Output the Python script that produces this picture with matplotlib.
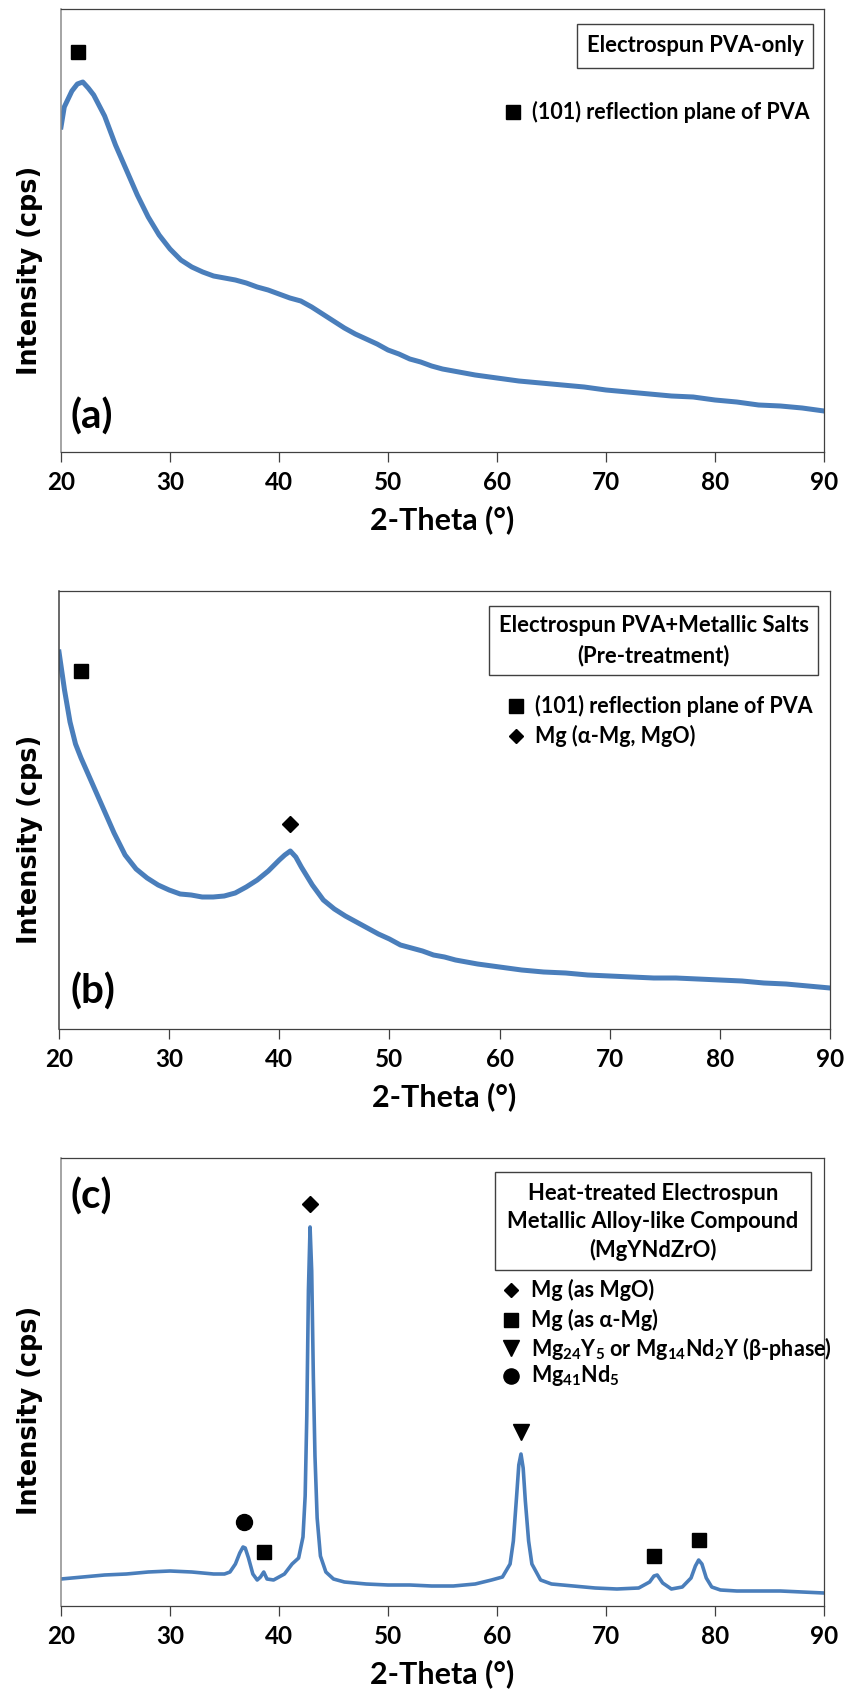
import matplotlib
matplotlib.use("Agg")
import matplotlib.pyplot as plt
from matplotlib.patches import Rectangle
from matplotlib.lines import Line2D

plt.rcParams["font.family"] = ["Lato", "DejaVu Sans"]
plt.rcParams["font.weight"] = "bold"
plt.rcParams["mathtext.fontset"] = "custom"
plt.rcParams["mathtext.rm"] = "Lato:bold"
plt.rcParams["mathtext.it"] = "Lato:bold"
plt.rcParams["mathtext.bf"] = "Lato:bold"

W, H = 847, 1697
LINE_BLUE = "#4a7ebb"

# (a) electrospun PVA only -- intensity (arb. units)
two_theta_a = [20.0, 20.3, 21.0, 21.5, 22.0, 22.5, 23.0, 24.0, 25.0, 26.0, 27.0, 28.0,
               29.0, 30.0, 31.0, 32.0, 33.0, 34.0, 35.0, 36.0, 37.0, 38.0, 39.0, 40.0,
               41.0, 42.0, 43.0, 44.0, 45.0, 46.0, 47.0, 48.0, 49.0, 50.0, 51.0, 52.0,
               53.0, 54.0, 55.0, 56.0, 57.0, 58.0, 60.0, 62.0, 64.0, 66.0, 68.0, 70.0,
               72.0, 74.0, 76.0, 78.0, 80.0, 82.0, 84.0, 86.0, 88.0, 90.0]
intensity_a = [325, 345, 361, 368, 370, 364, 357, 336, 307, 282, 257, 235,
               217, 203, 192, 185, 180, 176, 174, 172, 169, 165, 162, 158,
               154, 151, 145, 138, 131, 124, 118, 113, 108, 102, 98, 93,
               90, 86, 83, 81, 79, 77, 74, 71, 69, 67, 65, 62,
               60, 58, 56, 55, 52, 50, 47, 46, 44, 41]

# (b) PVA + metallic salts, pre-treatment
two_theta_b = [20.0, 20.5, 21.0, 21.5, 22.0, 23.0, 24.0, 25.0, 26.0, 27.0, 28.0, 29.0,
               30.0, 31.0, 32.0, 33.0, 34.0, 35.0, 36.0, 37.0, 38.0, 39.0, 40.0, 40.5,
               41.0, 41.5, 42.0, 43.0, 44.0, 45.0, 46.0, 47.0, 48.0, 49.0, 50.0, 51.0,
               52.0, 53.0, 54.0, 55.0, 56.0, 57.0, 58.0, 60.0, 62.0, 64.0, 66.0, 68.0,
               70.0, 72.0, 74.0, 76.0, 78.0, 80.0, 82.0, 84.0, 86.0, 88.0, 90.0]
intensity_b = [377, 339, 307, 285, 271, 246, 221, 196, 174, 160, 151, 144,
               139, 135, 134, 132, 132, 133, 136, 142, 149, 158, 169, 174,
               178, 172, 162, 144, 129, 120, 113, 107, 101, 95, 90, 84,
               81, 78, 74, 72, 69, 67, 65, 62, 59, 57, 56, 54,
               53, 52, 51, 51, 50, 49, 48, 46, 45, 43, 41]

# (c) heat-treated electrospun alloy-like compound
two_theta_c = [20.0, 22.0, 24.0, 26.0, 28.0, 30.0, 32.0, 34.0, 35.0, 35.5, 36.0, 36.4,
               36.7, 36.9, 37.2, 37.6, 38.0, 38.3, 38.6, 38.9, 39.5, 40.5, 41.2, 41.8,
               42.2, 42.4, 42.55, 42.7, 42.85, 43.0, 43.15, 43.3, 43.5, 43.8, 44.3, 45.0,
               46.0, 48.0, 50.0, 52.0, 54.0, 56.0, 58.0, 59.5, 60.5, 61.2, 61.5, 61.8,
               62.0, 62.2, 62.4, 62.6, 62.9, 63.2, 64.0, 65.0, 67.0, 69.0, 71.0, 73.0,
               74.0, 74.4, 74.7, 75.2, 76.0, 77.0, 77.8, 78.2, 78.5, 78.8, 79.2, 79.7,
               80.5, 82.0, 84.0, 86.0, 88.0, 90.0]
intensity_c = [27, 29, 31, 32, 34, 35, 34, 32, 32, 34, 42, 53,
               59, 58, 48, 32, 26, 29, 34, 27, 26, 32, 42, 48,
               69, 110, 190, 316, 379, 335, 230, 150, 88, 50, 34, 27,
               24, 22, 21, 21, 20, 20, 22, 26, 29, 42, 65, 110,
               141, 152, 138, 105, 65, 42, 26, 22, 20, 18, 17, 18,
               24, 30, 31, 23, 17, 19, 28, 40, 46, 42, 28, 19,
               16, 15, 15, 15, 14, 13]

# peak markers: (2-theta, height)
marks_a = {"s": [(21.6, 400)]}
marks_b = {"s": [(22.0, 358)], "D": [(41.0, 205)]}
marks_c = {"o": [(36.8, 84)], "s": [(38.6, 54), (74.4, 50), (78.5, 66)],
           "D": [(42.8, 402)], "v": [(62.2, 174)]}

MARKER_SIZE = {"s": 10.5, "D": 7.8, "o": 11.5, "v": 11.5}


def fx(x):
    return x / W


def fy(y):
    return 1 - y / H


def make_axes(fig, left, top, right, bottom):
    return fig.add_axes([fx(left), fy(bottom), (right - left) / W, (bottom - top) / H])


def style_axes(ax, height, left_grey=True):
    ax.set_xlim(20, 90)
    ax.set_ylim(0, height)
    ax.set_xticks(range(20, 91, 10))
    ax.set_yticks([])
    for side in ["top", "right", "bottom"]:
        ax.spines[side].set_color("#404040")
        ax.spines[side].set_linewidth(0.9)
    ax.spines["left"].set_color("#8c8c8c" if left_grey else "#404040")
    ax.spines["left"].set_linewidth(1.1)
    ax.tick_params(axis="x", direction="out", length=7, width=0.9, color="#404040",
                   labelsize=17.5, pad=7)
    for lab in ax.get_xticklabels():
        lab.set_fontweight("bold")
    ax.set_xlabel("2-Theta (°)", fontsize=22, fontweight="bold", labelpad=8)


def put_marks(ax, marks):
    for m, pts in marks.items():
        xs = [p[0] for p in pts]
        ys = [p[1] for p in pts]
        ax.plot(xs, ys, linestyle="none", marker=m, color="black",
                markersize=MARKER_SIZE[m], clip_on=False)


def fig_box(fig, left, top, right, bottom, lines, centers_y):
    fig.add_artist(Rectangle((fx(left), fy(bottom)), (right - left) / W, (bottom - top) / H,
                             transform=fig.transFigure, fill=False,
                             edgecolor="#404040", linewidth=1.0))
    cx = (left + right) / 2
    for txt, yy in zip(lines, centers_y):
        fig.text(fx(cx), fy(yy), txt, ha="center", va="center", fontsize=15.8,
                 fontweight="bold")


def fig_key(fig, x_mark, x_text, items):
    for m, yy, txt in items:
        fig.add_artist(Line2D([fx(x_mark)], [fy(yy)], transform=fig.transFigure,
                              marker=m, color="black", linestyle="none",
                              markersize=MARKER_SIZE[m] * 0.95))
        fig.text(fx(x_text), fy(yy), txt, ha="left", va="center", fontsize=15.5,
                 fontweight="bold")


fig = plt.figure(figsize=(W / 100, H / 100), dpi=100)

# panel (a)
ax_a = make_axes(fig, 61, 9, 824, 452)
ax_a.plot(two_theta_a, intensity_a, color=LINE_BLUE, linewidth=3.6)
style_axes(ax_a, 443)
put_marks(ax_a, marks_a)
fig_box(fig, 577, 24, 813, 68, ["Electrospun PVA-only"], [46])
fig_key(fig, 513, 532, [("s", 112, "(101) reflection plane of PVA")])
fig.text(fx(70), fy(417), "(a)", fontsize=29, fontweight="bold", ha="left", va="center")
fig.text(fx(30), fy(270), "Intensity (cps)", rotation=90, fontsize=18.4,
         fontweight="bold", family="DejaVu Sans", ha="center", va="center")

# panel (b)
ax_b = make_axes(fig, 59, 591, 830, 1029)
ax_b.plot(two_theta_b, intensity_b, color=LINE_BLUE, linewidth=3.6)
style_axes(ax_b, 438, left_grey=False)
put_marks(ax_b, marks_b)
fig_box(fig, 489, 606, 818, 675, ["Electrospun PVA+Metallic Salts", "(Pre-treatment)"],
        [626, 656])
fig_key(fig, 516, 535, [("s", 706, "(101) reflection plane of PVA"),
                        ("D", 736, "Mg (α-Mg, MgO)")])
fig.text(fx(70), fy(992), "(b)", fontsize=29, fontweight="bold", ha="left", va="center")
fig.text(fx(30), fy(839), "Intensity (cps)", rotation=90, fontsize=18.4,
         fontweight="bold", family="DejaVu Sans", ha="center", va="center")

# panel (c)
ax_c = make_axes(fig, 61, 1158, 824, 1606)
ax_c.plot(two_theta_c, intensity_c, color=LINE_BLUE, linewidth=2.6)
style_axes(ax_c, 448)
put_marks(ax_c, marks_c)
fig_box(fig, 495, 1172, 811, 1270,
        ["Heat-treated Electrospun", "Metallic Alloy-like Compound", "(MgYNdZrO)"],
        [1193, 1221, 1250])
fig_key(fig, 511, 531, [("D", 1290, "Mg (as MgO)"),
                        ("s", 1320, "Mg (as α-Mg)"),
                        ("v", 1348, r"Mg$_{24}$Y$_{5}$ or Mg$_{14}$Nd$_{2}$Y (β-phase)"),
                        ("o", 1376, r"Mg$_{41}$Nd$_{5}$")])
fig.text(fx(70), fy(1197), "(c)", fontsize=29, fontweight="bold", ha="left", va="center")
fig.text(fx(30), fy(1410), "Intensity (cps)", rotation=90, fontsize=18.4,
         fontweight="bold", family="DejaVu Sans", ha="center", va="center")

fig.savefig("out.png", dpi=100)
